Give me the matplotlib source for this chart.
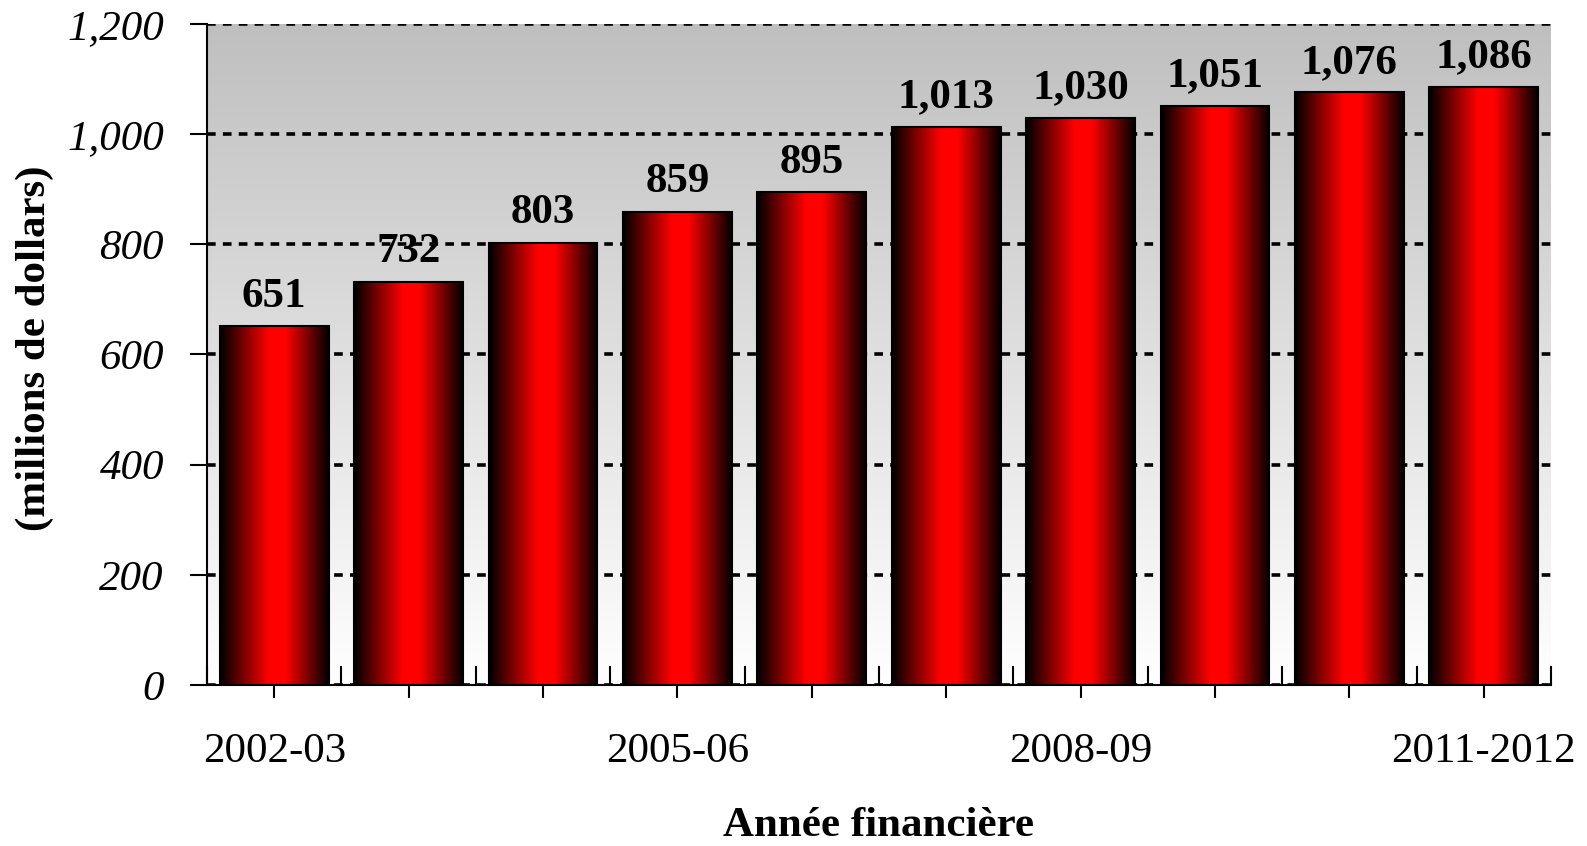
import numpy as np
import matplotlib
matplotlib.use("Agg")
import matplotlib.pyplot as plt
from matplotlib.colors import LinearSegmentedColormap
from matplotlib.ticker import FixedLocator

years = ["2002-03", "2003-04", "2004-05", "2005-06", "2006-07",
         "2007-08", "2008-09", "2009-10", "2010-11", "2011-2012"]
values = [651, 732, 803, 859, 895, 1013, 1030, 1051, 1076, 1086]
shown_labels = ["2002-03", "2005-06", "2008-09", "2011-2012"]
y_ticks = [0, 200, 400, 600, 800, 1000, 1200]

plt.rcParams['font.family'] = ['Liberation Serif', 'DejaVu Serif']

fig = plt.figure(figsize=(15.87, 8.46), dpi=100)
ax = fig.add_axes([207 / 1587, 1 - 685 / 846, 1344 / 1587, 661 / 846])

n = len(values)
bar_w = 0.81

# grey-to-white background
bg_cmap = LinearSegmentedColormap.from_list("bg", ["#ffffff", "#bfbfbf"])
ax.imshow(np.linspace(0, 1, 256).reshape(-1, 1), extent=[-0.5, n - 0.5, 0, 1200],
          origin='lower', aspect='auto', cmap=bg_cmap, zorder=0)

# bars with horizontal black-red-black shading
bar_cmap = LinearSegmentedColormap.from_list(
    "bar", [(0, "#000000"), (0.45, "#ff0000"), (0.6, "#ff0000"), (1, "#000000")])
grad = np.linspace(0, 1, 256).reshape(1, -1)
for i, v in enumerate(values):
    ax.imshow(grad, extent=[i - bar_w / 2, i + bar_w / 2, 0, v],
              aspect='auto', cmap=bar_cmap, zorder=2)
ax.bar(range(n), values, bar_w, facecolor='none', edgecolor='black',
       linewidth=1.5, zorder=3)

for i, v in enumerate(values):
    ax.annotate(f"{v:,}", (i, v), xytext=(0, 14), textcoords='offset points',
                ha='center', va='baseline', fontsize=31, fontweight='bold',
                zorder=4)

ax.set_xlim(-0.5, n - 0.5)
ax.set_ylim(0, 1200)

ax.set_yticks(y_ticks)
ax.set_yticklabels([f"{t:,}" for t in y_ticks], fontstyle='italic', fontsize=31)
ax.set_xticks(range(n))
ax.set_xticklabels([y if y in shown_labels else "" for y in years], fontsize=31)
ax.xaxis.set_minor_locator(FixedLocator(np.arange(-0.5, n, 1)))

ax.tick_params(axis='y', direction='out', length=12, width=1.5, pad=19)
ax.tick_params(axis='x', which='major', direction='inout', length=19, width=1.5, pad=25)
ax.tick_params(axis='x', which='minor', direction='in', length=14, width=1.5)

ax.set_axisbelow(True)
ax.yaxis.grid(True, color='black', linewidth=2.6, linestyle=(0, (2.4, 2.0)), zorder=1)

for s in ['top', 'right']:
    ax.spines[s].set_visible(False)
ax.spines['left'].set_linewidth(1.5)
ax.spines['bottom'].set_linewidth(1.5)

fig.text(35 / 1587, 1 - 348 / 846, "(millions de dollars)", rotation=90,
         ha='center', va='center', fontsize=31, fontweight='bold')
fig.text(879 / 1587, 1 - 826 / 846, "Année financière",
         ha='center', va='center', fontsize=31, fontweight='bold')

fig.savefig("out.png", dpi=100)
